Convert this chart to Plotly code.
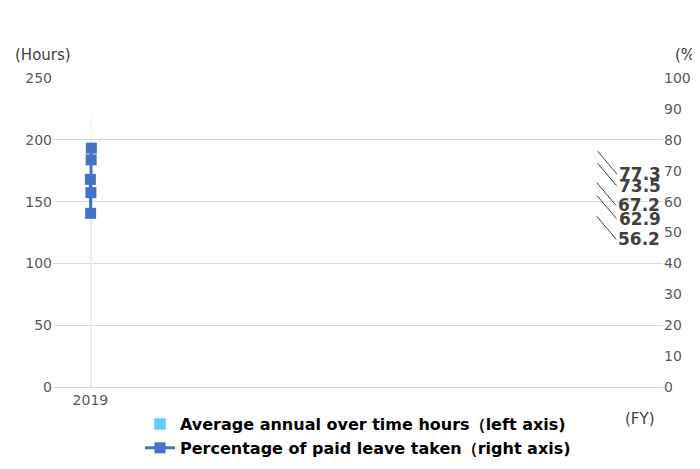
import plotly.graph_objects as go

years = ["2019", "2020", "2021", "2022", "2023"]
overtime_hours = [196.6, 140.9, 197.2, 218.7, 201.9]
paid_leave_pct = [67.2, 56.2, 62.9, 73.5, 77.3]

fig = go.Figure()
fig.add_trace(go.Bar(
    x=years, y=overtime_hours, width=0.27, marker_color="#66CCFF",
    name="<b>Average annual over time hours（left axis)</b>",
    text=[f"<b>{v:.1f}</b>" for v in overtime_hours], textposition="outside",
    textfont=dict(size=17, color="#404040", family="DejaVu Sans"),
    cliponaxis=False, yaxis="y",
))
fig.add_trace(go.Scatter(
    x=years, y=paid_leave_pct, mode="lines+markers",
    line=dict(color="#4472C4", width=3),
    marker=dict(symbol="square", size=11, color="#4472C4"),
    name="<b>Percentage of paid leave taken（right axis)</b>", yaxis="y2",
))

# leader-line labels for the line series
for x, v in zip(years, paid_leave_pct):
    fig.add_annotation(
        x=x, y=v, xref="x", yref="y2", text=f"<b>{v:.1f}</b>",
        showarrow=True, arrowhead=0, arrowwidth=1, arrowcolor="#404040",
        ax=22, ay=26, xanchor="left", standoff=4,
        font=dict(size=17, color="#404040", family="DejaVu Sans"),
    )

for txt, x, y, xa in [("(Hours)", -0.065, 1.073, "left"), ("(%)", 1.065, 1.073, "right"),
                      ("(FY)", 0.99, -0.105, "right")]:
    fig.add_annotation(x=x, y=y, xref="paper", yref="paper", text=txt, showarrow=False,
                       xanchor=xa, yanchor="middle",
                       font=dict(size=15, color="#404040", family="DejaVu Sans"))

fig.update_layout(
    width=700, height=469, plot_bgcolor="white", paper_bgcolor="white",
    margin=dict(l=45, r=45, t=70, b=84),
    font=dict(family="DejaVu Sans", color="#595959", size=14),
    xaxis=dict(type="category", showline=True, linecolor="#D9D9D9",
               tickfont=dict(size=14, color="#595959"), ticks=""),
    yaxis=dict(range=[0, 250], dtick=50, gridcolor="#D9D9D9", zeroline=False,
               tickfont=dict(size=14, color="#595959")),
    yaxis2=dict(range=[0, 100], dtick=10, overlaying="y", side="right", showgrid=False,
                zeroline=False, tickfont=dict(size=14, color="#595959")),
    legend=dict(orientation="v", x=0.5, xanchor="center", y=-0.065, yanchor="top",
                font=dict(size=16, color="#000000"), tracegroupgap=2),
    showlegend=True,
)

fig.write_html("out.html")
